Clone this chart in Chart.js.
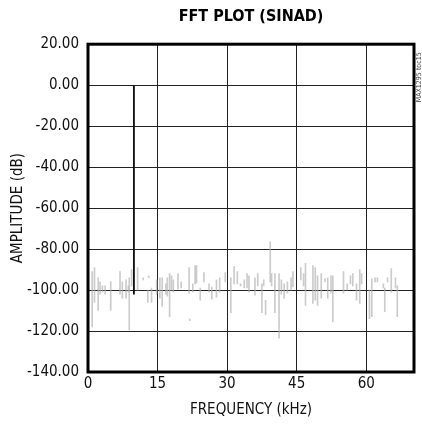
<!DOCTYPE html>
<html>
<head>
<meta charset="utf-8">
<script src="https://cdn.jsdelivr.net/npm/chart.js@4.4.0/dist/chart.umd.min.js"></script>
<style>
  html, body { margin: 0; padding: 0; background: #fff; }
  #wrap { width: 422px; height: 431px; }
</style>
</head>
<body>
<div id="wrap"><canvas id="fft"></canvas></div>
<script>
// axis setup
const yTicks = [20, 0, -20, -40, -60, -80, -100, -120, -140];
const xTicks = [0, 15, 30, 45, 60];
const xMax = 70.3;

// fundamental tone (kHz, dB)
const toneFreq = 9.9;
const toneLow = -102;
const toneHigh = 0;

// noise floor segments: frequency (kHz), bottom and top (dB)
const noiseFreq = [
  0.9, 1.4, 2.2, 2.6, 3.1, 3.7, 4.9, 6.9, 7.4, 8.2, 8.7, 8.9, 9.4, 10.7,
  11.9, 12.9, 13.1, 13.7, 14.8, 15.5, 16.0, 16.8, 17.1, 17.6, 18.0, 18.4, 19.4, 20.1,
  21.8, 21.95, 22.6, 23.1, 23.4, 24.2, 25.0, 26.1, 26.7, 27.7, 28.4, 29.6,
  30.8, 31.5, 32.2, 32.9, 33.7, 34.3, 34.7, 36.0, 36.6, 37.5, 37.9, 38.3,
  39.3, 39.6, 40.3, 41.2, 41.7, 42.3, 43.0, 43.8, 44.2, 45.9,
  46.5, 46.9, 48.5, 49.0, 49.5, 50.3, 51.1, 51.7, 52.4, 52.8, 55.1, 55.9, 56.6, 57.1,
  57.9, 58.6, 59.0, 60.7, 61.2, 61.9, 62.4, 63.7, 64.0, 64.6, 65.4, 66.3, 66.7
];
const noiseLow = [
  -118, -106, -110, -102, -101, -102, -110, -102, -104, -104, -101, -119.5, -98, -100,
  -95, -106, -94, -106, -102, -104, -108, -102, -103, -113, -100, -101, -99.5, -99,
  -101.5, -115, -101, -97, -96.5, -105, -96, -101, -104.5, -103.5, -101, -96,
  -111, -97, -97, -98, -99, -99, -101, -102.5, -98, -111, -98, -112,
  -96, -98, -111, -123.5, -102, -104, -101.5, -100, -98.5, -95,
  -98, -107.5, -106.5, -105, -107.5, -104, -96, -104, -101.5, -115.5, -101.5, -100, -97, -98,
  -105, -106.5, -97, -114, -113, -96, -96, -99, -110.5, -96, -101, -99, -113
];
const noiseHigh = [
  -91, -89, -94, -96, -98, -98, -96, -91, -96, -95, -98, -94, -90, -89,
  -94, -100, -93, -99, -95, -94, -94, -97, -94, -92, -93, -95, -92, -96,
  -89, -114, -97, -88, -88, -99, -91.5, -97, -98.5, -95, -94, -91.5,
  -94, -88.5, -91, -97, -95, -92, -93, -94, -92, -97, -95, -105,
  -76.5, -92, -92, -92, -95, -97, -96, -94, -91, -89,
  -92, -87, -88, -89, -93, -92, -94.5, -94, -93, -93, -91, -97, -93, -92,
  -97, -90, -92, -100, -94.5, -94, -94, -97, -99, -94, -89.5, -94, -98
];

const fontFamily = "'Liberation Sans Narrow', 'DejaVu Sans Condensed', 'Liberation Sans', sans-serif";

const noisePoints = noiseFreq.map((f, i) => ({ x: f, y: [noiseLow[i], noiseHigh[i]] }));
const tonePoints = [{ x: toneFreq, y: [toneLow, toneHigh] }];

// thick frame round the plot area, plus the small figure code at right
const framePlugin = {
  id: 'frame',
  afterDraw(chart) {
    const { ctx, chartArea: a } = chart;
    ctx.save();
    ctx.strokeStyle = '#000';
    ctx.lineWidth = 3;
    ctx.strokeRect(a.left, a.top, a.right - a.left, a.bottom - a.top);
    ctx.translate(a.right + 5, a.top + 58);
    ctx.rotate(-Math.PI / 2);
    ctx.fillStyle = '#444';
    ctx.font = "7px " + fontFamily;
    ctx.textBaseline = 'middle';
    ctx.fillText('MAX1295 toc15', 0, 0);
    ctx.restore();
  }
};

new Chart(document.getElementById('fft'), {
  type: 'bar',
  data: {
    datasets: [
      {
        label: 'noise',
        data: noisePoints,
        backgroundColor: 'rgba(175,175,175,0.65)',
        barThickness: 1,
        grouped: false,
        order: 2
      },
      {
        label: 'tone',
        data: tonePoints,
        backgroundColor: '#111',
        barThickness: 1.2,
        grouped: false,
        order: 1
      }
    ]
  },
  options: {
    responsive: true,
    maintainAspectRatio: false,
    animation: false,
    layout: { padding: { left: 0, right: 8, top: 0, bottom: 0 } },
    plugins: {
      legend: { display: false },
      tooltip: { enabled: false },
      title: {
        display: true,
        text: 'FFT PLOT (SINAD)',
        fullSize: false,
        color: '#000',
        font: { family: fontFamily, size: 16, weight: 'bold' },
        padding: { top: 7, bottom: 18 }
      }
    },
    scales: {
      x: {
        type: 'linear',
        min: 0,
        max: xMax,
        offset: false,
        afterBuildTicks: s => { s.ticks = xTicks.map(v => ({ value: v })); },
        afterFit: s => { s.height = 59; },
        grid: { color: '#222', lineWidth: 1, drawTicks: false, offset: false },
        border: { display: false },
        ticks: { color: '#111', padding: 3, font: { family: fontFamily, size: 15 } },
        title: {
          display: true,
          text: 'FREQUENCY (kHz)',
          color: '#111',
          font: { family: fontFamily, size: 15 },
          padding: { top: 0, bottom: 12 }
        }
      },
      y: {
        min: -140,
        max: 20,
        afterBuildTicks: s => { s.ticks = yTicks.map(v => ({ value: v })); },
        afterFit: s => { s.width = 88; },
        grid: { color: '#222', lineWidth: 1, drawTicks: false },
        border: { display: false },
        ticks: {
          color: '#111',
          padding: 9,
          font: { family: fontFamily, size: 15 },
          callback: v => v.toFixed(2)
        },
        title: {
          display: true,
          text: 'AMPLITUDE (dB)',
          color: '#111',
          font: { family: fontFamily, size: 15 },
          padding: { top: 9, bottom: 0 }
        }
      }
    }
  },
  plugins: [framePlugin]
});
</script>
</body>
</html>
